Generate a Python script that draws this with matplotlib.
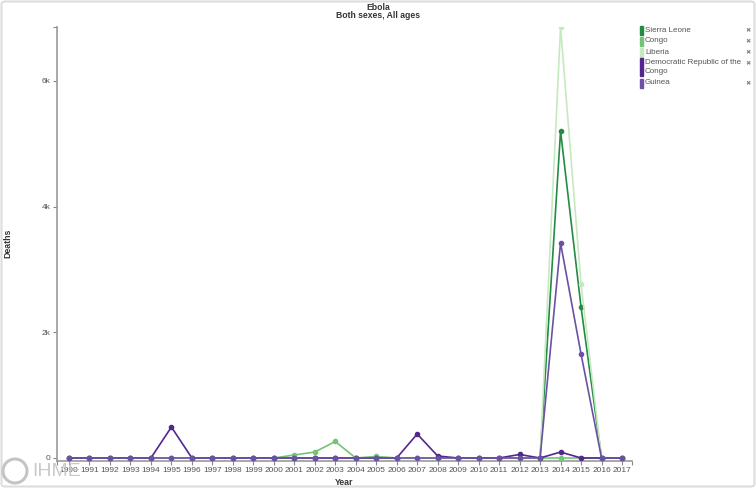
import numpy as np
import matplotlib.pyplot as plt
from matplotlib.patches import Rectangle, Ellipse, FancyBboxPatch

plt.rcParams["font.family"] = ["Liberation Sans", "DejaVu Sans"]

years = list(range(1990, 2018))

sierra_leone = [0, 0, 0, 0, 0, 0, 0, 0, 0, 0, 0, 0, 0, 0, 0, 0, 0, 0, 0, 0, 0, 0, 0, 0, 5203, 2403, 5, 0]
congo = [0, 0, 0, 0, 0, 0, 0, 0, 0, 0, 0, 48, 95, 263, 0, 24, 0, 0, 0, 0, 0, 0, 0, 0, 0, 0, 0, 0]
liberia = [0, 0, 0, 0, 0, 0, 0, 0, 0, 0, 0, 0, 0, 0, 0, 0, 0, 0, 0, 0, 0, 0, 0, 0, 6860, 2769, 3, 0]
drc = [0, 0, 0, 0, 0, 493, 0, 0, 0, 0, 0, 0, 0, 0, 0, 0, 0, 382, 32, 0, 0, 0, 56, 0, 95, 0, 0, 0]
guinea = [0, 0, 0, 0, 0, 0, 0, 0, 0, 0, 0, 0, 0, 0, 0, 0, 0, 0, 0, 0, 0, 0, 0, 0, 3421, 1655, 3, 0]

series = [
    ("Sierra Leone", sierra_leone, "#238b45"),
    ("Congo", congo, "#74c476"),
    ("Liberia", liberia, "#c7e9c0"),
    ("Democratic Republic of the\nCongo", drc, "#54278f"),
    ("Guinea", guinea, "#6a51a3"),
]

W, H = 756, 488
fig = plt.figure(figsize=(W / 100, H / 100), dpi=100)

# axes box in pixel coords: left 57, right 632, top 27, bottom 461
L, R, T, B = 57, 632, 27, 461
ax = fig.add_axes([L / W, 1 - B / H, (R - L) / W, (B - T) / H])

for name, vals, col in series:
    ax.plot(years, vals, color=col, lw=1.2, marker="o", ms=3, zorder=3)

px_per_year = (622 - 69) / 27
ax.set_xlim(1990 - (69 - L) / px_per_year, 2017 + (R - 622) / px_per_year)
px_per_k = (458 - 81) / 6000
ax.set_ylim(-(B - 458) / px_per_k, (458 - T) / px_per_k)

ax.set_xticks(years)
ax.set_xticklabels([str(y) for y in years])
ax.set_yticks([0, 2000, 4000, 6000])
ax.set_yticklabels(["0", "2k", "4k", "6k"])
ax.set_xticks(list(ax.get_xlim()), minor=True)
ax.set_yticks([ax.get_ylim()[1]], minor=True)

for s in ["top", "right"]:
    ax.spines[s].set_visible(False)
for s in ["left", "bottom"]:
    ax.spines[s].set_color("#999999")
    ax.spines[s].set_linewidth(1.2)
ax.tick_params(which="both", length=3, width=0.8, color="#888888",
               labelsize=6, labelcolor="#555555", pad=1.5)

ax.set_xlabel("Year", fontsize=6.3, fontweight="bold", color="#333333", labelpad=2.5)
fig.text(8 / W, 1 - 243 / H, "Deaths", rotation=90, fontsize=6.3, fontweight="bold",
         color="#333333", ha="center", va="center")

fig.text(378 / W, 1 - 7 / H, "Ebola", fontsize=6.2, fontweight="bold",
         color="#333333", ha="center", va="center")
fig.text(378 / W, 1 - 16 / H, "Both sexes, All ages", fontsize=6.2, fontweight="bold",
         color="#333333", ha="center", va="center")

# legend
leg_y = [30, 41, 52, 63, 83]
for (name, vals, col), y in zip(series, leg_y):
    lines = name.count("\n") + 1
    h = 9 + (lines - 1) * 8
    fig.patches.append(Rectangle((640 / W, 1 - (y - 4.5 + h) / H), 2.5 / W, h / H,
                                 transform=fig.transFigure, color=col))
    fig.text(645 / W, 1 - (y - 3.5) / H, name, fontsize=5.8, color="#555555",
             ha="left", va="top", linespacing=1.3)
    fig.text(748 / W, 1 - (y + 0.5) / H, "\u2716", fontsize=4.5, color="#888888",
             ha="center", va="center", family="DejaVu Sans")

# IHME mark
fig.patches.append(Ellipse((15 / W, 1 - 471 / H), 24 / W, 24 / H, transform=fig.transFigure,
                           fill=False, ec="#c4c4c4", lw=2.2, zorder=5))
fig.text(32 / W, 1 - 471 / H, "IHME", fontsize=14, color="#c4c4c4",
         ha="left", va="center", alpha=0.9, zorder=5)

# outer frame
fig.patches.append(FancyBboxPatch((1.5 / W, 1.5 / H), (W - 3) / W, (H - 3) / H,
                                  boxstyle="round,pad=0,rounding_size=0.005",
                                  transform=fig.transFigure, fill=False,
                                  ec="#dddddd", lw=1.5))

fig.savefig("out.png", dpi=100)
